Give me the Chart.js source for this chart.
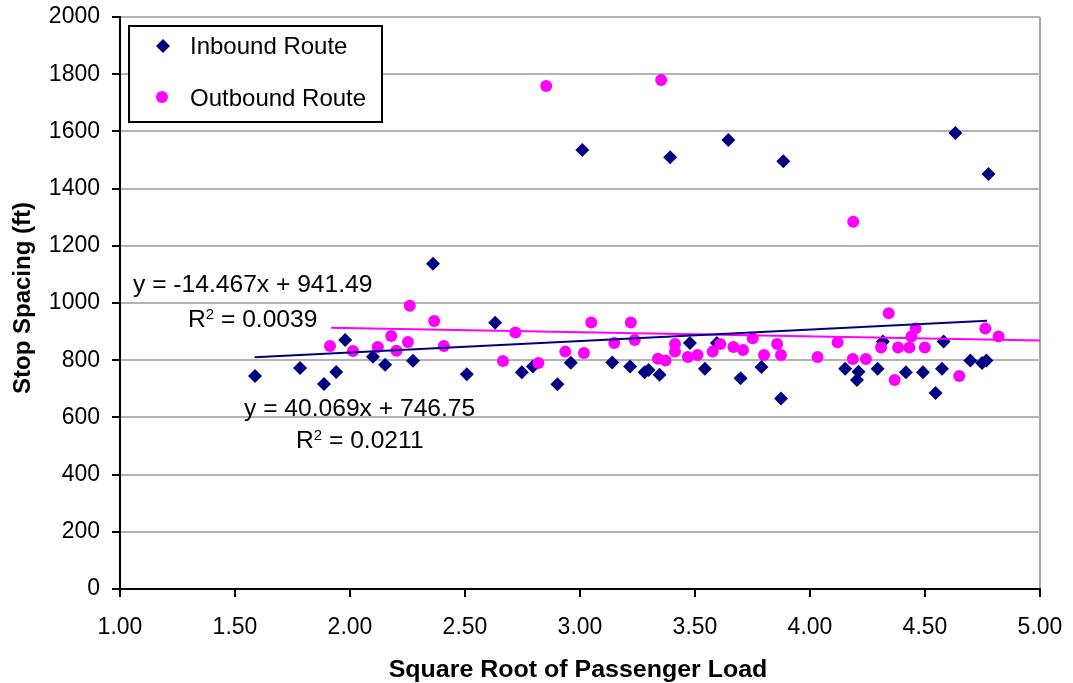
<!DOCTYPE html>
<html>
<head>
<meta charset="utf-8">
<script src="https://cdn.jsdelivr.net/npm/chart.js@4.4.1/dist/chart.umd.min.js"></script>
<style>
  html, body { margin: 0; padding: 0; background: #fff; }
</style>
</head>
<body>
<canvas id="chart" width="1073" height="683"></canvas>
<script>
(() => {
    // Inbound route: square root of passenger load vs. stop spacing (ft)
    const inboundX = [1.587, 1.783, 1.887, 1.940, 1.979, 2.100, 2.153, 2.274, 2.361, 2.508,
                      2.631, 2.747, 2.795, 2.902, 2.960, 3.010, 3.140, 3.218, 3.281, 3.298,
                      3.346, 3.392, 3.478, 3.543, 3.595, 3.645, 3.698, 3.789, 3.874, 3.884,
                      4.153, 4.204, 4.211, 4.294, 4.317, 4.417, 4.491, 4.546, 4.574, 4.581,
                      4.632, 4.697, 4.748, 4.767, 4.776];
    const inboundY = [745, 773, 717, 759, 871, 812, 784, 798, 1137, 751,
                      931, 758, 778, 716, 791, 1535, 792, 778, 758, 766,
                      749, 1510, 860, 770, 860, 1570, 737, 776, 666, 1496,
                      770, 731, 760, 770, 865, 758, 758, 685, 770, 865,
                      1594, 799, 790, 799, 1451];

    // Outbound route
    const outboundX = [1.913, 2.013, 2.121, 2.179, 2.202, 2.252, 2.260, 2.366, 2.408, 2.665,
                       2.719, 2.819, 2.853, 2.936, 3.017, 3.049, 3.149, 3.221, 3.238, 3.339,
                       3.353, 3.372, 3.413, 3.413, 3.469, 3.511, 3.577, 3.610, 3.667, 3.709,
                       3.751, 3.800, 3.857, 3.874, 4.033, 4.120, 4.186, 4.188, 4.243, 4.309,
                       4.342, 4.368, 4.383, 4.432, 4.441, 4.459, 4.499, 4.649, 4.762, 4.820];
    const outboundY = [850, 832, 846, 885, 833, 864, 990, 937, 850, 797,
                       897, 790, 1759, 830, 825, 932, 860, 932, 871, 805,
                       1780, 799, 857, 830, 811, 818, 830, 857, 846, 836,
                       877, 818, 857, 818, 811, 863, 804, 1284, 804, 844,
                       964, 731, 844, 844, 883, 911, 844, 745, 911, 883];

    // Linear trendlines (slope, intercept, R²) and the x span each one covers
    const inboundFit = [40.069, 746.75, '0.0211'];
    const outboundFit = [-14.467, 941.49, '0.0039'];
    const inboundFitRange = [1.585, 4.77];
    const outboundFitRange = [1.918, 5.0];

    const xTicks = [1.0, 1.5, 2.0, 2.5, 3.0, 3.5, 4.0, 4.5, 5.0];

    const NAVY = '#000080';
    const PINK = '#ff00ff';
    const FONT = '"Liberation Sans", Arial, sans-serif';

    const toPoints = (xs, ys) => xs.map((x, i) => ({ x: x, y: ys[i] }));
    const fitLine = (fit, range) => range.map(x => ({ x: x, y: fit[0] * x + fit[1] }));
    const fmtFit = fit => 'y = ' + fit[0] + 'x + ' + fit[1].toFixed(2);

    // text with a slight horizontal stretch, like the spreadsheet rendering
    function drawText(ctx, text, x, y, font, sx) {
        ctx.save();
        ctx.font = font;
        ctx.translate(x, y);
        ctx.scale(sx || 1, 1);
        ctx.fillText(text, 0, 0);
        ctx.restore();
        ctx.font = font;
        return ctx.measureText(text).width * (sx || 1);
    }

    function drawR2(ctx, value, x, y) {
        const wR = drawText(ctx, 'R', x, y, '23px ' + FONT, 1.07);
        const w2 = drawText(ctx, '2', x + wR, y - 8, '14px ' + FONT, 1.07);
        drawText(ctx, ' = ' + value, x + wR + w2, y, '23px ' + FONT, 1.07);
    }

    const overlay = {
        id: 'overlay',
        afterDraw(chart) {
            const ctx = chart.ctx;
            const ca = chart.chartArea;
            ctx.save();
            ctx.fillStyle = '#000';
            ctx.textAlign = 'left';
            ctx.textBaseline = 'alphabetic';

            // trendline equations
            drawText(ctx, fmtFit(outboundFit), 133, 292, '23px ' + FONT, 1.07);
            drawR2(ctx, outboundFit[2], 188, 327);
            drawText(ctx, fmtFit(inboundFit), 244, 416, '23px ' + FONT, 1.07);
            drawR2(ctx, inboundFit[2], 296, 448);

            // legend box
            const bx = ca.left + 9, by = ca.top + 9;
            ctx.fillStyle = '#fff';
            ctx.fillRect(bx, by, 253, 96);
            ctx.strokeStyle = '#000';
            ctx.lineWidth = 2;
            ctx.strokeRect(bx, by, 253, 96);

            ctx.fillStyle = NAVY;
            Chart.helpers.drawPoint(ctx, { pointStyle: 'rectRot', radius: 7, borderWidth: 0, rotation: 0 }, bx + 34, by + 20);
            ctx.fillStyle = PINK;
            Chart.helpers.drawPoint(ctx, { pointStyle: 'circle', radius: 6, borderWidth: 0, rotation: 0 }, bx + 33, by + 71);

            ctx.fillStyle = '#000';
            drawText(ctx, 'Inbound Route', bx + 61, by + 28, '24px ' + FONT, 1);
            drawText(ctx, 'Outbound Route', bx + 61, by + 80, '24px ' + FONT, 1);

            // axis titles
            ctx.textAlign = 'center';
            drawText(ctx, 'Square Root of Passenger Load', 578, 677, 'bold 24px ' + FONT, 1.04);
            ctx.save();
            ctx.translate(30, 298);
            ctx.rotate(-Math.PI / 2);
            ctx.font = 'bold 24px ' + FONT;
            ctx.fillText('Stop Spacing (ft)', 0, 0);
            ctx.restore();

            ctx.restore();
        }
    };

    const tickFont = { family: FONT, size: 23 };

    new Chart(document.getElementById('chart'), {
        type: 'scatter',
        data: {
            datasets: [
                {
                    label: 'Inbound fit',
                    type: 'line',
                    data: fitLine(inboundFit, inboundFitRange),
                    borderColor: NAVY,
                    borderWidth: 2,
                    pointRadius: 0,
                    fill: false,
                    order: 0
                },
                {
                    label: 'Outbound fit',
                    type: 'line',
                    data: fitLine(outboundFit, outboundFitRange),
                    borderColor: PINK,
                    borderWidth: 2,
                    pointRadius: 0,
                    fill: false,
                    order: 0
                },
                {
                    label: 'Outbound Route',
                    data: toPoints(outboundX, outboundY),
                    pointStyle: 'circle',
                    pointRadius: 6,
                    pointBorderWidth: 0,
                    backgroundColor: PINK,
                    borderColor: PINK,
                    order: 1
                },
                {
                    label: 'Inbound Route',
                    data: toPoints(inboundX, inboundY),
                    pointStyle: 'rectRot',
                    pointRadius: 7,
                    pointBorderWidth: 0,
                    backgroundColor: NAVY,
                    borderColor: NAVY,
                    order: 2
                }
            ]
        },
        options: {
            responsive: false,
            animation: false,
            layout: { padding: { top: 17, right: 33, left: 0, bottom: 0 } },
            plugins: {
                legend: { display: false },
                tooltip: { enabled: false }
            },
            scales: {
                x: {
                    type: 'linear',
                    min: 1,
                    max: 5,
                    afterFit: s => {
                        s.height = 94;
                        s.paddingLeft = 0;
                        s.paddingRight = 0;
                    },
                    afterBuildTicks: s => { s.ticks = xTicks.map(v => ({ value: v })); },
                    ticks: {
                        font: tickFont,
                        color: '#000',
                        padding: 17,
                        maxRotation: 0,
                        autoSkip: false,
                        callback: v => Number(v).toFixed(2)
                    },
                    grid: {
                        color: c => (c.tick && c.tick.value === 5) ? '#a6a6a6' : 'rgba(0,0,0,0)',
                        lineWidth: 2,
                        tickColor: '#000',
                        tickLength: 8,
                        tickWidth: 2
                    },
                    border: { color: '#000', width: 2 }
                },
                y: {
                    min: 0,
                    max: 2000,
                    afterFit: s => {
                        s.width = 120;
                        s.paddingTop = 12;
                        s.paddingBottom = 0;
                    },
                    ticks: {
                        stepSize: 200,
                        font: tickFont,
                        color: '#000',
                        padding: 12,
                        callback: v => String(v)
                    },
                    grid: {
                        color: c => (c.tick && c.tick.value === 0) ? 'rgba(0,0,0,0)' : '#b3b3b3',
                        lineWidth: 2,
                        tickColor: '#000',
                        tickLength: 8,
                        tickWidth: 2
                    },
                    border: { color: '#000', width: 2 }
                }
            }
        },
        plugins: [overlay]
    });
})();
</script>
</body>
</html>
